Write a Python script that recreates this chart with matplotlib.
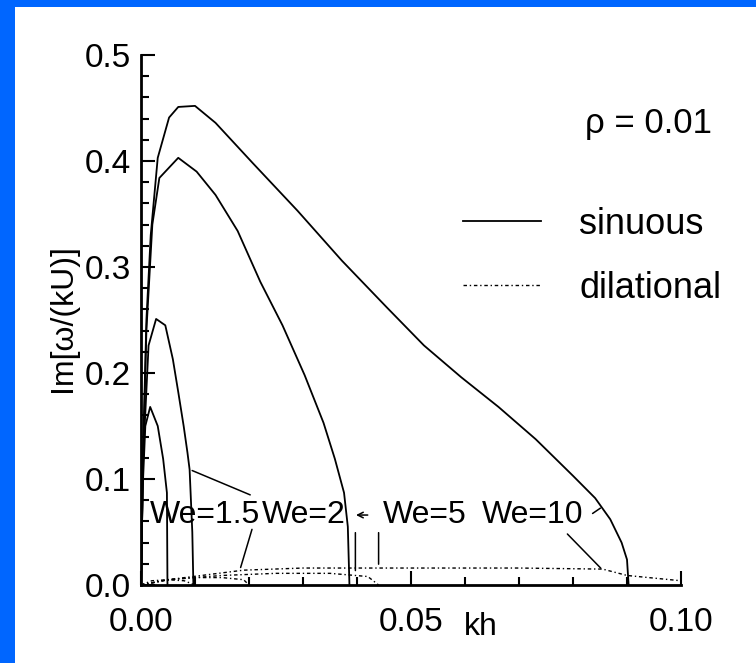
import matplotlib
matplotlib.use("Agg")
import matplotlib.pyplot as plt
from matplotlib.patches import Rectangle
from matplotlib.lines import Line2D
from matplotlib.ticker import MultipleLocator, FormatStrFormatter

plt.rcParams['font.family'] = ['Liberation Sans', 'DejaVu Sans']

# sinuous modes (solid), one curve per Weber number
kh_s10 = [0, 0.0004, 0.001, 0.0018, 0.0031, 0.0052, 0.0069, 0.010, 0.0138, 0.0207, 0.029,
          0.0372, 0.0455, 0.0524, 0.0593, 0.0662, 0.0731, 0.080, 0.0841, 0.0869, 0.089,
          0.090, 0.0903]
im_s10 = [0, 0.13, 0.25, 0.33, 0.403, 0.441, 0.451, 0.452, 0.436, 0.398, 0.353,
          0.306, 0.262, 0.226, 0.196, 0.168, 0.1375, 0.103, 0.082, 0.062, 0.040,
          0.024, 0.0]
kh_s5 = [0, 0.0004, 0.001, 0.0021, 0.0034, 0.0069, 0.0103, 0.0138, 0.0179, 0.0221,
         0.0262, 0.0303, 0.0338, 0.0359, 0.0376, 0.0383, 0.0386]
im_s5 = [0, 0.12, 0.24, 0.34, 0.384, 0.403, 0.39, 0.368, 0.334, 0.286,
         0.245, 0.198, 0.153, 0.119, 0.087, 0.055, 0.0]
kh_s2 = [0, 0.0004, 0.0014, 0.0028, 0.0045, 0.0059, 0.0069, 0.0079, 0.0086, 0.009,
         0.0095, 0.0097]
im_s2 = [0, 0.12, 0.226, 0.251, 0.245, 0.213, 0.182, 0.150, 0.125, 0.109, 0.05, 0.0]
kh_s15 = [0, 0.0003, 0.0008, 0.0017, 0.0031, 0.0041, 0.0048, 0.0049]
im_s15 = [0, 0.09, 0.15, 0.168, 0.150, 0.119, 0.087, 0.0]

# dilational modes (dotted)
kh_d15 = [0, 0.002, 0.005, 0.008, 0.010]
im_d15 = [0, 0.004, 0.005, 0.004, 0]
kh_d2 = [0, 0.005, 0.01, 0.015, 0.019, 0.020]
im_d2 = [0, 0.005, 0.007, 0.007, 0.005, 0]
kh_d5 = [0, 0.005, 0.015, 0.025, 0.035, 0.042, 0.044]
im_d5 = [0, 0.005, 0.009, 0.011, 0.011, 0.008, 0]
kh_d10 = [0, 0.005, 0.019, 0.03, 0.05, 0.07, 0.0855, 0.09, 0.10]
im_d10 = [0, 0.005, 0.014, 0.016, 0.016, 0.016, 0.015, 0.009, 0.004]

we_labels = ['We=1.5', 'We=2', 'We=5', 'We=10']
we_label_kh = [0.0119, 0.0302, 0.0526, 0.0726]
we_label_im = 0.066

fig = plt.figure(figsize=(7.56, 6.63), dpi=100)
fig.patch.set_facecolor('#0066ff')
fig.patches.append(Rectangle((15 / 756, 0), 1, 1 - 7 / 663, transform=fig.transFigure,
                             facecolor='white', edgecolor='none', zorder=-10))
ax = fig.add_axes([141 / 756, 1 - 585 / 663, 540 / 756, 530 / 663])
ax.set_facecolor('white')

dil = (0, (2.5, 2, 1, 2))
for kh, im in [(kh_s10, im_s10), (kh_s5, im_s5), (kh_s2, im_s2), (kh_s15, im_s15)]:
    ax.plot(kh, im, color='black', lw=1.3)
for kh, im in [(kh_d15, im_d15), (kh_d2, im_d2), (kh_d5, im_d5), (kh_d10, im_d10)]:
    ax.plot(kh, im, color='black', lw=1.0, linestyle=dil)

for lab, x in zip(we_labels, we_label_kh):
    ax.text(x, we_label_im, lab, ha='center', va='center', fontsize=23)

# connector lines from the labels to the curves
con = dict(arrowstyle='-', color='black', lw=1.1)
ax.annotate('', xy=(0.009, 0.109), xytext=(0.0207, 0.084), arrowprops=con)
ax.annotate('', xy=(0.0183, 0.014), xytext=(0.0207, 0.055), arrowprops=con)
ax.annotate('', xy=(0.0393, 0.066), xytext=(0.0425, 0.066),
            arrowprops=dict(arrowstyle='->', color='black', lw=1.1))
ax.annotate('', xy=(0.0397, 0.011), xytext=(0.0397, 0.052), arrowprops=con)
ax.annotate('', xy=(0.044, 0.017), xytext=(0.044, 0.052), arrowprops=con)
ax.annotate('', xy=(0.0855, 0.014), xytext=(0.0786, 0.050), arrowprops=con)
ax.annotate('', xy=(0.0855, 0.074), xytext=(0.0832, 0.066), arrowprops=con)

ax.set_xlim(0, 0.10)
ax.set_ylim(0, 0.5)
ax.xaxis.set_major_locator(MultipleLocator(0.05))
ax.xaxis.set_minor_locator(MultipleLocator(0.01))
ax.yaxis.set_major_locator(MultipleLocator(0.1))
ax.yaxis.set_minor_locator(MultipleLocator(0.02))
ax.xaxis.set_major_formatter(FormatStrFormatter('%.2f'))
ax.yaxis.set_major_formatter(FormatStrFormatter('%.1f'))
ax.tick_params(which='both', direction='in', width=1.5, labelsize=24)
ax.tick_params(which='major', length=10)
ax.tick_params(which='minor', length=6)
ax.tick_params(axis='x', which='major', pad=16)
ax.tick_params(axis='y', which='major', pad=7)
ax.spines['top'].set_visible(False)
ax.spines['right'].set_visible(False)
ax.spines['left'].set_linewidth(2)
ax.spines['bottom'].set_linewidth(2)

ax.set_xlabel('kh', fontsize=23)
ax.xaxis.set_label_coords(0.63, -0.079)
ax.xaxis.label.set_va('center')
ax.set_ylabel('Im[\u03c9/(kU)]', fontsize=23)
ax.yaxis.set_label_coords(-0.144, 0.504)
ax.yaxis.label.set_va('center')

ax.text(0.822, 0.87, '\u03c1 = 0.01', transform=ax.transAxes, fontsize=25, va='center')

handles = [Line2D([], [], color='black', lw=1.3),
           Line2D([], [], color='black', lw=1.0, linestyle=dil)]
ax.legend(handles, ['sinuous', 'dilational'], loc='upper left', bbox_to_anchor=(0.596, 0.713),
          frameon=False, fontsize=26, handlelength=2.17, handletextpad=1.05,
          labelspacing=0.8, borderpad=0, borderaxespad=0)

fig.savefig('out.png', dpi=100, facecolor=fig.get_facecolor())
